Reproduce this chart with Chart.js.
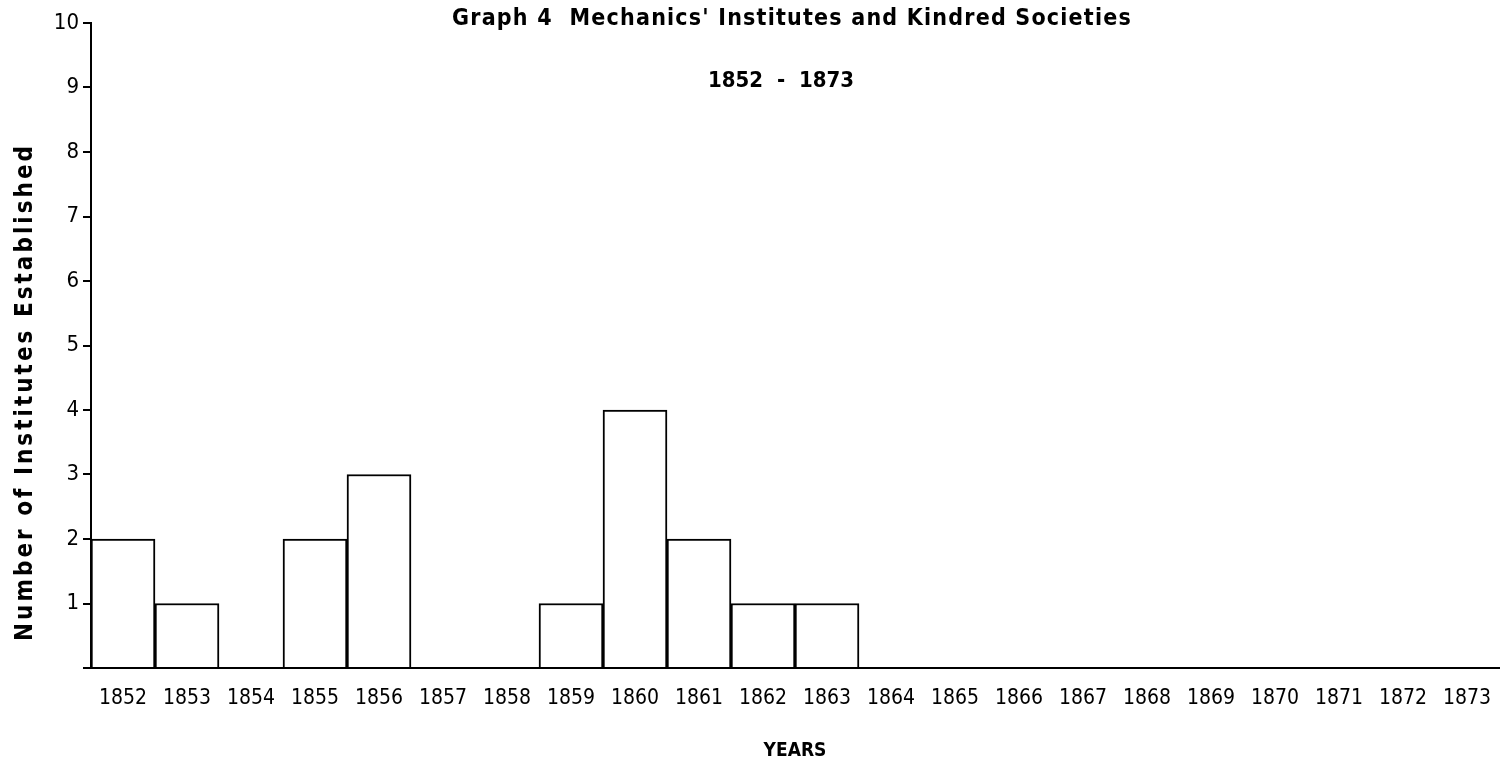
<!DOCTYPE html>
<html>
<head>
<meta charset="utf-8">
<script src="https://cdn.jsdelivr.net/npm/chart.js"></script>
<style>
body{margin:0;background:#fff;}
</style>
</head>
<body>
<canvas id="myChart" width="1502" height="770"></canvas>
<script>
var years = ["1852","1853","1854","1855","1856","1857","1858","1859","1860","1861","1862",
  "1863","1864","1865","1866","1867","1868","1869","1870","1871","1872","1873"];
var counts = [2,1,0,2,3,0,0,1,4,2,1,1,0,0,0,0,0,0,0,0,0,0];
var titleText = "Graph 4  Mechanics' Institutes and Kindred Societies";
var subTitleText = "1852  -  1873";
var yTitleText = "Number of Institutes Established";
var xTitleText = "YEARS";

var tickFont = "'Liberation Sans Narrow', 'DejaVu Sans Condensed', sans-serif";
var boldFont = "'DejaVu Sans Condensed', 'DejaVu Sans', sans-serif";

// titles sit inside the plot, so draw them by hand
var headerText = {
  id: "headerText",
  afterDraw: function(chart) {
    var ctx = chart.ctx;
    var area = chart.chartArea;
    var cx = (area.left + area.right) / 2;
    ctx.save();
    ctx.fillStyle = "#000";
    ctx.textAlign = "center";
    ctx.textBaseline = "middle";
    ctx.font = "bold 23px " + boldFont;
    ctx.letterSpacing = "1.2px";
    ctx.fillText(titleText, cx - 3, 19);
    ctx.font = "bold 22px " + boldFont;
    ctx.letterSpacing = "0px";
    ctx.fillText(subTitleText, cx - 14, 81);
    ctx.font = "bold 24px " + boldFont;
    ctx.letterSpacing = "3px";
    ctx.translate(26, 392);
    ctx.rotate(-Math.PI / 2);
    ctx.fillText(yTitleText, 0, 0);
    ctx.restore();
  }
};

new Chart("myChart", {
  type: "bar",
  data: {
    labels: years,
    datasets: [{
      data: counts,
      backgroundColor: "#fff",
      borderColor: "#000",
      borderWidth: 2,
      barPercentage: 1,
      categoryPercentage: 1
    }]
  },
  options: {
    responsive: false,
    animation: false,
    layout: {padding: {top: 23, right: 3, left: 0, bottom: 0}},
    plugins: {
      legend: {display: false},
      tooltip: {enabled: false}
    },
    scales: {
      x: {
        grid: {display: false},
        border: {display: true, color: "#000", width: 2},
        ticks: {color: "#000", padding: 10, maxRotation: 0, autoSkip: false,
          font: {family: tickFont, size: 21}},
        title: {display: true, text: xTitleText, color: "#000", padding: {bottom: 8},
          font: {family: boldFont, weight: "bold", size: 19}},
        afterFit: function(scale) { scale.height = 102; }
      },
      y: {
        min: 0,
        max: 10,
        ticks: {stepSize: 1, color: "#000", padding: 4,
          font: {family: tickFont, size: 22},
          callback: function(v) { return v === 0 ? "" : v; }},
        grid: {drawOnChartArea: false, drawTicks: true, tickLength: 8, color: "#000", lineWidth: 2},
        border: {display: true, color: "#000", width: 2},
        afterFit: function(scale) { scale.width = 91; }
      }
    }
  },
  plugins: [headerText]
});
</script>
</body>
</html>
